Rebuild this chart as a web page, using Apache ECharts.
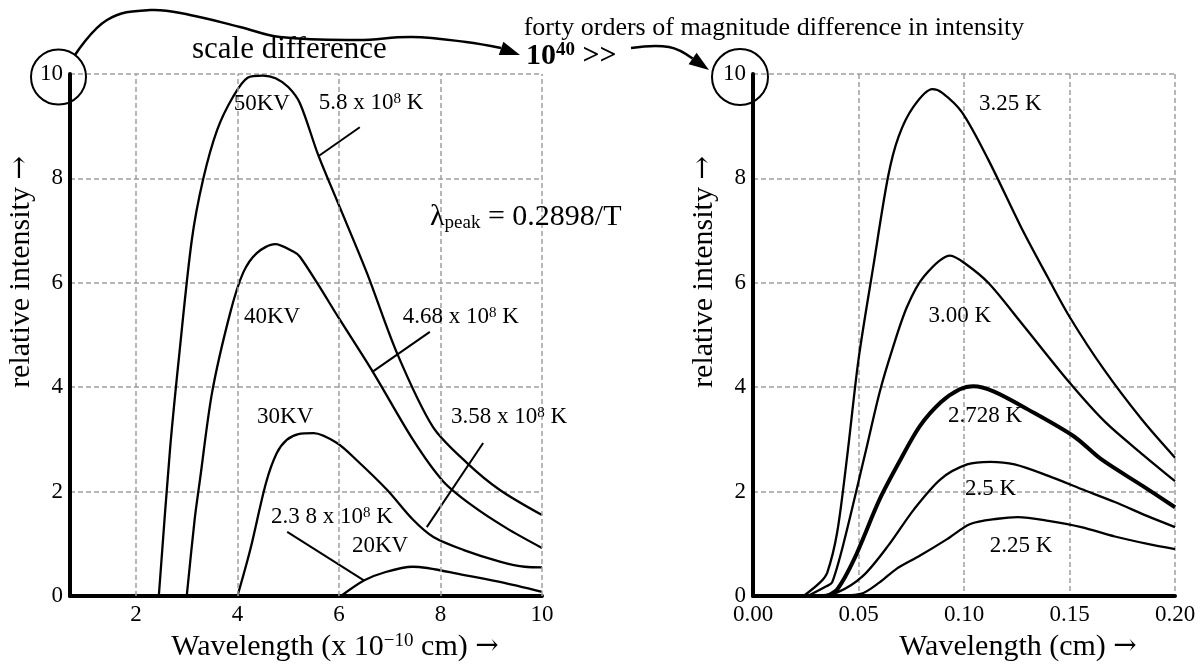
<!DOCTYPE html>
<html><head><meta charset="utf-8">
<script src="https://cdn.jsdelivr.net/npm/echarts@6/dist/echarts.min.js"></script>
<style>html,body{margin:0;padding:0;background:#fff}#c{width:1203px;height:669px}</style>
</head><body><div id="c"></div>
<script>
const FONT = "'Liberation Serif','Times New Roman',serif";
const ARROW_FONT = "'DejaVu Serif','DejaVu Sans',serif";

// ---------- left panel (x 10^-10 cm) ----------
const leftXTicks = [2, 4, 6, 8, 10];
const kv50 = [[2.45,0],[2.67,2.8],[2.85,4.6],[3.1,6.82],[3.32,7.97],[3.6,8.93],[3.91,9.56],[4.2,9.93],[4.5,9.97],[4.75,9.92],[5.0,9.75],[5.23,9.44],[5.59,8.45],[5.98,7.53],[6.55,6.19],[7.14,4.66],[7.85,3.24],[8.52,2.55],[9.17,2.03],[10,1.55]];
const kv40 = [[3.0,0],[3.16,1.5],[3.26,2.22],[3.5,3.9],[3.85,5.4],[4.11,6.19],[4.38,6.57],[4.74,6.74],[5.1,6.6],[5.23,6.5],[5.6,5.95],[5.98,5.35],[6.67,4.29],[7.46,2.99],[8.05,2.2],[8.6,1.75],[9.3,1.3],[10,0.92]];
const kv30 = [[4.0,0],[4.25,0.88],[4.56,2.16],[4.77,2.73],[4.97,2.99],[5.2,3.1],[5.5,3.12],[5.96,2.93],[6.35,2.6],[6.95,2.03],[7.46,1.46],[7.86,1.13],[8.46,0.88],[9.17,0.66],[9.66,0.56],[10,0.55]];
const kv20 = [[6.04,0],[6.5,0.3],[6.92,0.46],[7.45,0.56],[8.47,0.4],[9.17,0.27],[10,0.08]];
const leftLeaders = [
  [[5.6,8.43],[6.41,8.98]],
  [[6.65,4.29],[7.79,5.06]],
  [[7.73,1.32],[8.84,2.93]],
  [[4.98,1.23],[6.49,0.3]]
];
const leftNotes = [
  ['50KV', 4.48, 9.42],
  ['5.8 x 10{s|8} K', 6.63, 9.44],
  ['40KV', 4.68, 5.35],
  ['4.68 x 10{s|8} K', 8.4, 5.35],
  ['30KV', 4.94, 3.43],
  ['3.58 x 10{s|8} K', 9.35, 3.43],
  ['2.3 8 x 10{s|8} K', 5.86, 1.51],
  ['20KV', 6.81, 0.96]
];
const lawNote = ['λ{p|peak} = 0.2898/T', 9.68, 7.26];

// ---------- right panel (cm) ----------
const k325 = [[0.024,0],[0.0318,0.26],[0.0352,0.45],[0.0399,1.22],[0.0447,2.7],[0.05,4.53],[0.057,6.31],[0.064,8.03],[0.069,8.8],[0.076,9.37],[0.085,9.71],[0.0897,9.64],[0.099,9.27],[0.1115,8.36],[0.127,7.07],[0.1395,6.12],[0.15,5.35],[0.1663,4.34],[0.1843,3.38],[0.2,2.65]];
const k300 = [[0.026,0],[0.035,0.19],[0.0375,0.26],[0.043,1.02],[0.053,2.7],[0.06,3.9],[0.066,4.72],[0.073,5.54],[0.081,6.12],[0.0935,6.52],[0.1005,6.37],[0.1115,6.0],[0.127,5.24],[0.15,4.09],[0.167,3.33],[0.185,2.7],[0.2,2.2]];
const k2728 = [[0.035,0],[0.04,0.13],[0.048,0.71],[0.06,1.85],[0.07,2.62],[0.079,3.25],[0.089,3.71],[0.098,3.96],[0.1045,4.02],[0.114,3.92],[0.13,3.58],[0.152,3.06],[0.165,2.62],[0.185,2.1],[0.2,1.7]];
const k250 = [[0.0287,0],[0.04,0.07],[0.052,0.38],[0.064,0.96],[0.0763,1.66],[0.089,2.24],[0.1015,2.52],[0.1125,2.57],[0.124,2.52],[0.14,2.3],[0.1556,2.05],[0.1715,1.8],[0.187,1.53],[0.2,1.32]];
const k225 = [[0.035,0],[0.051,0.04],[0.06,0.26],[0.068,0.52],[0.079,0.77],[0.092,1.09],[0.103,1.38],[0.116,1.48],[0.1255,1.51],[0.14,1.44],[0.1556,1.32],[0.1715,1.14],[0.187,1.0],[0.2,0.9]];
const rightNotes = [
  ['3.25 K', 0.122, 9.43],
  ['3.00 K', 0.098, 5.36],
  ['2.728 K', 0.110, 3.44],
  ['2.5 K', 0.1126, 2.05],
  ['2.25 K', 0.127, 0.96]
];

const GRID_LINE = {color:'#a0a0a0', width:1.5, type:[5,3]};
const richSmall = {
  s: {fontSize:15, lineHeight:12, verticalAlign:'top', fontFamily:FONT, color:'#000'},
  p: {fontSize:19, lineHeight:13, verticalAlign:'bottom', fontFamily:FONT, color:'#000'}
};
const richName = {
  sup: {fontSize:19, lineHeight:15, verticalAlign:'top', fontFamily:FONT, color:'#000'},
  a: {fontSize:28, fontFamily:ARROW_FONT, color:'#000'}
};

function curve(data, xi, w) {
  return {type:'line', xAxisIndex:xi, yAxisIndex:xi, data:data, smooth:0.3, showSymbol:false,
    silent:true, lineStyle:{color:'#000', width:w||2.3}, z:3};
}
function leader(seg) {
  return {type:'line', xAxisIndex:0, yAxisIndex:0, data:seg, showSymbol:false, silent:true,
    lineStyle:{color:'#000', width:2}, z:3};
}
function notes(list, xi, size, lh) {
  return {type:'scatter', xAxisIndex:xi, yAxisIndex:xi, symbolSize:0, silent:true, z:5,
    itemStyle:{opacity:1, color:'#000'},
    data: list.map(n => ({name:n[0], value:[n[1], n[2]]})),
    label:{show:true, position:'inside', formatter:p => p.name, color:'#000', opacity:1,
      fontSize:size, lineHeight:lh, fontFamily:FONT, rich:richSmall}};
}
function nameStyle(extra) {
  return Object.assign({color:'#000', fontSize:30, lineHeight:30, fontFamily:FONT, rich:richName}, extra);
}

const yAxisBase = (gi, gap) => ({
  gridIndex:gi, type:'value', min:0, max:10, interval:2,
  axisLine:{show:true, lineStyle:{color:'#000', width:4}}, axisTick:{show:false},
  axisLabel:{color:'#000', fontSize:23, fontFamily:FONT, margin:7},
  splitLine:{show:true, lineStyle:GRID_LINE},
  name:'relative intensity {a|→}', nameLocation:'middle', nameGap:gap,
  nameTextStyle:nameStyle({padding:[0,0,0,126]})
});

const option = {
  animation:false,
  backgroundColor:'#fff',
  grid:[{left:70, top:74, width:472, height:522}, {left:753, top:74, width:422, height:522}],
  xAxis:[
    {gridIndex:0, type:'value', min:0.7, max:10,
     axisLine:{lineStyle:{color:'#000', width:4}}, axisTick:{show:false},
     axisLabel:{customValues:leftXTicks, color:'#000', fontSize:23, fontFamily:FONT, margin:7},
     splitLine:{show:false},
     name:'Wavelength (x 10{sup|−10} cm) {a|→}', nameLocation:'middle', nameGap:36,
     nameTextStyle:nameStyle({padding:[0,0,0,58]})},
    {gridIndex:1, type:'value', min:0, max:0.2, interval:0.05,
     axisLine:{lineStyle:{color:'#000', width:4}}, axisTick:{show:false},
     axisLabel:{formatter:v => v.toFixed(2), color:'#000', fontSize:23, fontFamily:FONT, margin:7},
     splitLine:{show:true, lineStyle:GRID_LINE},
     name:'Wavelength (cm) {a|→}', nameLocation:'middle', nameGap:36,
     nameTextStyle:nameStyle({padding:[0,0,0,108]})}
  ],
  yAxis:[yAxisBase(0, 28), yAxisBase(1, 33)],
  series:[
    Object.assign(curve(kv50, 0), {markLine:{silent:true, symbol:'none', label:{show:false},
      lineStyle:GRID_LINE, data:leftXTicks.map(v => ({xAxis:v}))}}),
    curve(kv40, 0), curve(kv30, 0), curve(kv20, 0),
    ...leftLeaders.map(leader),
    notes(leftNotes, 0, 23, 23),
    notes([lawNote], 0, 30, 30),
    curve(k325, 1), curve(k300, 1), curve(k2728, 1, 4), curve(k250, 1), curve(k225, 1),
    notes(rightNotes, 1, 23, 23)
  ],
  graphic:[
    {type:'circle', shape:{cx:58.5, cy:77, r:27.5}, style:{fill:'none', stroke:'#000', lineWidth:2}, z:10},
    {type:'circle', shape:{cx:740, cy:77, r:28}, style:{fill:'none', stroke:'#000', lineWidth:2}, z:10},
    {type:'polyline', shape:{points:[[75,55],[107,20],[150,10],[190,15],[240,27],[280,37],[358,40],[412,37],[466,42],[501,48]], smooth:0.4},
     style:{fill:'none', stroke:'#000', lineWidth:2.5}, z:10},
    {type:'polygon', shape:{points:[[520,55],[498.8,55],[503.4,41.8]]}, style:{fill:'#000'}, z:10},
    {type:'polyline', shape:{points:[[631,48],[669,47],[692.6,58.5]], smooth:0.4},
     style:{fill:'none', stroke:'#000', lineWidth:2.5}, z:10},
    {type:'polygon', shape:{points:[[709,70],[688.6,64.2],[696.6,52.8]]}, style:{fill:'#000'}, z:10},
    {type:'text', x:192, y:50, style:{text:'scale difference', font:'31px ' + FONT, fill:'#000', verticalAlign:'middle'}, z:10},
    {type:'text', x:774, y:28, style:{text:'forty orders of magnitude difference in intensity', font:'26px ' + FONT, fill:'#000', align:'center', verticalAlign:'middle'}, z:10},
    {type:'text', x:526, y:56, style:{text:'{b|10}{s|40}{b| >>}', verticalAlign:'middle',
      rich:{b:{fontSize:30, lineHeight:30, fontWeight:'bold', fontFamily:FONT, fill:'#000'},
            s:{fontSize:19, lineHeight:15, verticalAlign:'top', fontWeight:'bold', fontFamily:FONT, fill:'#000'}}}, z:10}
  ]
};

const chart = echarts.init(document.getElementById('c'), null, {renderer:'canvas'});
chart.setOption(option);
</script>
</body></html>
